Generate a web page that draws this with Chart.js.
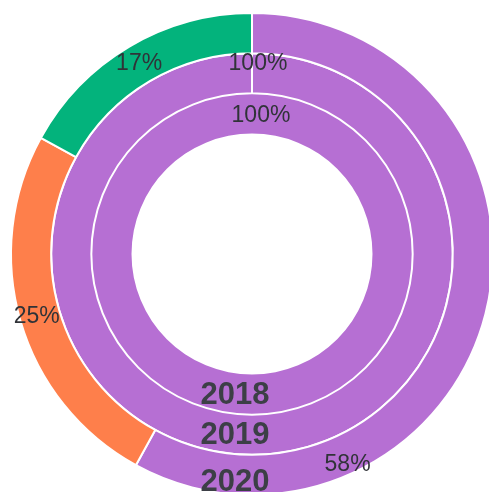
<!DOCTYPE html>
<html>
<head>
<meta charset="utf-8">
<script src="https://cdn.jsdelivr.net/npm/chart.js@4"></script>
<style>
  html, body { margin: 0; padding: 0; background: #fff; overflow: hidden; }
  #wrap { position: absolute; left: 0; top: 0; width: 504px; height: 508px; }
</style>
</head>
<body>
<div id="wrap"><canvas id="rings"></canvas></div>
<script>
// rings from outside to inside
const years = ['2020', '2019', '2018'];
const values2020 = [58, 25, 17];
const values2019 = [100];
const values2018 = [100];
const purple = '#b66fd3';
const orange = '#fe7f4b';
const green = '#03b37c';

// where each percent label sits: [fraction along arc, fraction across ring]
const pctSpots = [
    [[0.745, 0.75], [0.5, 0.58], [0.5, 0.52]],
    [[0.005, 0.75]],
    [[0.0103, 0.46]]
];

const ringLabels = {
    id: 'ringLabels',
    afterDraw(chart) {
        const ctx = chart.ctx;
        ctx.save();
        ctx.textAlign = 'center';
        ctx.textBaseline = 'middle';
        chart.data.datasets.forEach((ds, i) => {
            const meta = chart.getDatasetMeta(i);
            const total = ds.data.reduce((a, b) => a + b, 0);
            ctx.font = '23px "Liberation Sans", Arial, sans-serif';
            ctx.fillStyle = '#303338';
            meta.data.forEach((arc, j) => {
                const p = arc.getProps(['x', 'y', 'startAngle', 'endAngle', 'innerRadius', 'outerRadius'], true);
                const spot = pctSpots[i][j];
                const a = p.startAngle + spot[0] * (p.endAngle - p.startAngle);
                const r = p.innerRadius + spot[1] * (p.outerRadius - p.innerRadius);
                const pct = Math.round(ds.data[j] / total * 100) + '%';
                ctx.fillText(pct, p.x + r * Math.cos(a), p.y + r * Math.sin(a));
            });
            // year name at the bottom of the ring
            const first = meta.data[0];
            const ry = first.innerRadius + ds.yearAt * (first.outerRadius - first.innerRadius);
            ctx.font = 'bold 31px "Liberation Sans", Arial, sans-serif';
            ctx.fillStyle = '#3c3f46';
            ctx.fillText(ds.label, first.x - 17, first.y + ry);
        });
        ctx.restore();
    }
};

new Chart(document.getElementById('rings'), {
    type: 'doughnut',
    data: {
        datasets: [
            { label: years[0], data: values2020, backgroundColor: [purple, orange, green], borderWidth: 2, yearAt: 0.7 },
            { label: years[1], data: values2019, backgroundColor: [purple], borderWidth: 2, yearAt: 0.52 },
            { label: years[2], data: values2018, backgroundColor: [purple], borderWidth: 0, yearAt: 0.53 }
        ]
    },
    options: {
        responsive: true,
        maintainAspectRatio: false,
        animation: false,
        cutout: '50%',
        borderColor: '#fff',
        layout: { padding: 10 },
        plugins: {
            legend: { display: false },
            tooltip: { enabled: false }
        }
    },
    plugins: [ringLabels]
});
</script>
</body>
</html>
